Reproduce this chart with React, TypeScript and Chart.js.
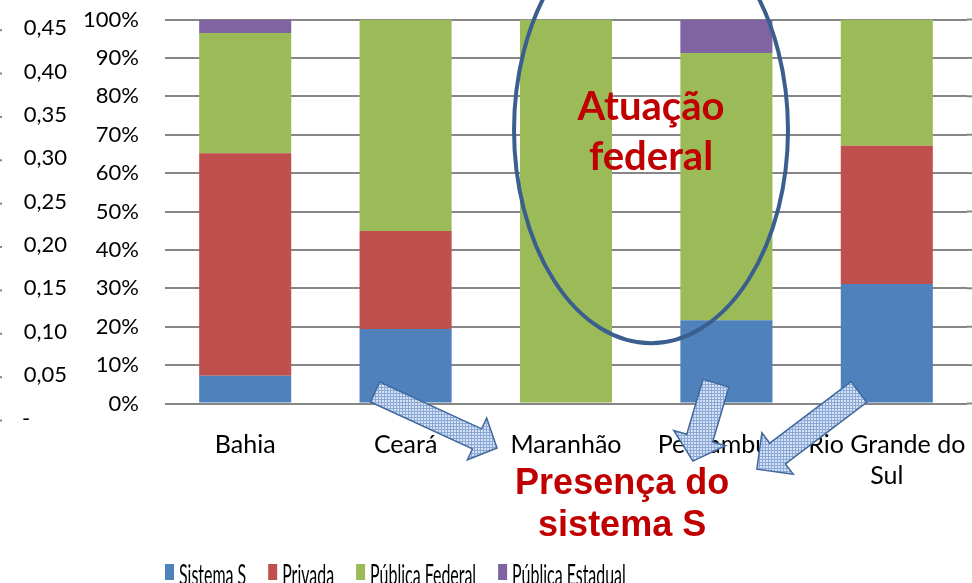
import React, { useEffect, useRef } from 'react';
import { Chart, registerables } from 'chart.js';

Chart.register(...registerables);

// ---- data ----
const categories: (string | string[])[] = ['Bahia', 'Ceará', 'Maranhão', 'Pernambuco', ['Rio Grande do', 'Sul']];
const sistemaS = [7.2, 19.4, 0, 21.7, 31.1];
const privada = [58.0, 25.5, 0, 0, 36.0];
const publicaFederal = [31.3, 55.1, 100, 69.6, 32.9];
const publicaEstadual = [3.5, 0, 0, 8.7, 0];
const seriesNames = ['Sistema S', 'Privada', 'Pública Federal', 'Pública Estadual'];
const seriesColors = ['#4F81BD', '#C0504D', '#9BBB59', '#8064A2'];

const secondaryTicks = [0, 0.05, 0.1, 0.15, 0.2, 0.25, 0.3, 0.35, 0.4, 0.45];
const secondaryLabels = ['-', '0,05', '0,10', '0,15', '0,20', '0,25', '0,30', '0,35', '0,40', '0,45'];

// annotations (in data units: category index, percent)
const ellipseNote = { cx: 2.53, cy: 71.2, rx: 0.854, ry: 55.5 };
const federalText = ['Atuação', 'federal'];
const federalTextPos = { x: 2.53, y: [73.8, 60.8] };
const sistemaText = ['Presença do', 'sistema S'];
const sistemaTextPos = { x: 2.35, y: [-23.6, -34.5] };
const arrows = [
  { tail: [0.81, 3.0], tip: [1.57, -11.6], w: 22, hw: 46, hl: 22 },
  { tail: [2.935, 5.3], tip: [2.791, -15.0], w: 27, hw: 54, hl: 24 },
  { tail: [3.826, 3.0], tip: [3.19, -17.1], w: 26, hw: 52, hl: 26 },
];

function makePattern(ctx: CanvasRenderingContext2D) {
  const c = document.createElement('canvas');
  c.width = 3;
  c.height = 3;
  const p = c.getContext('2d')!;
  p.fillStyle = '#d6e2f2';
  p.fillRect(0, 0, 3, 3);
  p.fillStyle = '#8aa9d8';
  p.fillRect(0, 0, 3, 1);
  p.fillRect(0, 0, 1, 3);
  return ctx.createPattern(c, 'repeat');
}

const gridExtendPlugin = {
  id: 'gridExtend',
  beforeDatasetsDraw(chart: any) {
    const ctx: CanvasRenderingContext2D = chart.ctx;
    const ys = chart.scales.y;
    const right = chart.chartArea.right;
    ctx.save();
    ctx.strokeStyle = '#868686';
    ctx.lineWidth = 2;
    ys.ticks.forEach((t: any) => {
      const py = ys.getPixelForValue(t.value);
      ctx.beginPath();
      ctx.moveTo(right, py);
      ctx.lineTo(chart.width, py);
      ctx.stroke();
    });
    ctx.restore();
  },
};

const annotationPlugin = {
  id: 'annotations',
  afterDraw(chart: any) {
    const ctx: CanvasRenderingContext2D = chart.ctx;
    const xs = chart.scales.x;
    const ys = chart.scales.y;
    const y2 = chart.scales.y2;
    const P = (xv: number, yv: number) => [xs.getPixelForValue(xv), ys.getPixelForValue(yv)];

    // secondary (cut) axis on the far left
    ctx.save();
    ctx.font = '22px Lato';
    ctx.textBaseline = 'middle';
    secondaryTicks.forEach((v, i) => {
      const py = y2.getPixelForValue(v);
      const label = secondaryLabels[i];
      ctx.fillStyle = '#000';
      if (label === '-') {
        ctx.textAlign = 'left';
        ctx.fillText(label, 22, py);
      } else {
        ctx.textAlign = 'right';
        ctx.fillText(label, 67, py);
      }
      ctx.fillStyle = '#868686';
      ctx.fillRect(0, py + 1, 2, 2);
    });
    ctx.restore();

    // ellipse
    const [ecx, ecy] = P(ellipseNote.cx, ellipseNote.cy);
    const erx = Math.abs(xs.getPixelForValue(ellipseNote.cx + ellipseNote.rx) - ecx);
    const ery = Math.abs(ys.getPixelForValue(ellipseNote.cy - ellipseNote.ry) - ecy);
    ctx.save();
    ctx.beginPath();
    ctx.ellipse(ecx, ecy, erx, ery, 0, 0, Math.PI * 2);
    ctx.strokeStyle = '#3A5F8E';
    ctx.lineWidth = 4;
    ctx.stroke();
    ctx.restore();

    // arrows
    const pat = makePattern(ctx);
    arrows.forEach((a) => {
      const [tx, ty] = P(a.tail[0], a.tail[1]);
      const [px, py] = P(a.tip[0], a.tip[1]);
      const len = Math.hypot(px - tx, py - ty);
      const dx = (px - tx) / len;
      const dy = (py - ty) / len;
      const nx = -dy;
      const ny = dx;
      const bx = px - dx * a.hl;
      const by = py - dy * a.hl;
      const pts = [
        [tx + (nx * a.w) / 2, ty + (ny * a.w) / 2],
        [bx + (nx * a.w) / 2, by + (ny * a.w) / 2],
        [bx + (nx * a.hw) / 2, by + (ny * a.hw) / 2],
        [px, py],
        [bx - (nx * a.hw) / 2, by - (ny * a.hw) / 2],
        [bx - (nx * a.w) / 2, by - (ny * a.w) / 2],
        [tx - (nx * a.w) / 2, ty - (ny * a.w) / 2],
      ];
      ctx.save();
      ctx.beginPath();
      pts.forEach((p, i) => (i === 0 ? ctx.moveTo(p[0], p[1]) : ctx.lineTo(p[0], p[1])));
      ctx.closePath();
      ctx.fillStyle = pat || '#c6d9f1';
      ctx.fill();
      ctx.strokeStyle = '#41699C';
      ctx.lineWidth = 1.5;
      ctx.stroke();
      ctx.restore();
    });

    // texts
    ctx.save();
    ctx.fillStyle = '#C00000';
    ctx.textAlign = 'center';
    ctx.textBaseline = 'alphabetic';
    ctx.font = 'bold 40px Lato';
    federalText.forEach((t, i) => {
      const [x, y] = P(federalTextPos.x, federalTextPos.y[i]);
      ctx.fillText(t, x, y);
    });
    ctx.font = 'bold 36px "Liberation Sans"';
    sistemaText.forEach((t, i) => {
      const [x, y] = P(sistemaTextPos.x, sistemaTextPos.y[i]);
      ctx.fillText(t, x, y);
    });
    ctx.restore();

    // legend (condensed)
    ctx.save();
    const sx = 0.55;
    let lx = chart.chartArea.left;
    const boxTop = 564;
    ctx.font = '29px Lato';
    ctx.textBaseline = 'alphabetic';
    ctx.textAlign = 'left';
    seriesNames.forEach((name, i) => {
      ctx.fillStyle = seriesColors[i];
      ctx.fillRect(lx, boxTop, 9, 16);
      const tx = lx + 14;
      ctx.fillStyle = '#000';
      ctx.save();
      ctx.translate(tx, 585);
      ctx.scale(sx, 1);
      ctx.fillText(name, 0, 0);
      ctx.restore();
      const w = ctx.measureText(name).width * sx;
      lx = tx + w + 22;
    });
    ctx.restore();
  },
};

export default function App() {
  const ref = useRef<HTMLCanvasElement>(null);
  useEffect(() => {
    if (!ref.current) return;
    const data = [sistemaS, privada, publicaFederal, publicaEstadual];
    const chart = new Chart(ref.current, {
      type: 'bar',
      data: {
        labels: categories as any,
        datasets: seriesNames.map((name, i) => ({
          label: name,
          data: data[i],
          backgroundColor: seriesColors[i],
          borderWidth: 0,
          barPercentage: 0.574,
          categoryPercentage: 1,
        })),
      },
      options: {
        animation: false,
        responsive: false,
        layout: { padding: { left: 0, top: 19.5, right: 5, bottom: 0 } },
        plugins: { legend: { display: false }, tooltip: { enabled: false } },
        scales: {
          x: {
            stacked: true,
            grid: { display: false },
            border: { display: false },
            ticks: {
              font: { family: 'Lato', size: 25, lineHeight: 1.25 },
              color: '#000',
              padding: 18,
              maxRotation: 0,
              autoSkip: false,
            },
            afterFit: (s: any) => {
              s.height = 179.5;
              s.paddingLeft = 0;
              s.paddingRight = 0;
            },
          },
          y: {
            stacked: true,
            min: 0,
            max: 100,
            ticks: {
              stepSize: 10,
              callback: (v: any) => v + '%',
              font: { family: 'Lato', size: 22 },
              color: '#000',
              padding: 26,
            },
            grid: { color: '#868686', lineWidth: 2, drawTicks: false },
            border: { display: false },
            afterFit: (s: any) => {
              s.width = 165;
              s.paddingTop = 0;
              s.paddingBottom = 0;
            },
          },
          y2: {
            display: false,
            position: 'left',
            min: 0.0173,
            max: 0.46,
            afterFit: (s: any) => {
              s.paddingTop = 0;
              s.paddingBottom = 0;
            },
          },
        },
      } as any,
      plugins: [gridExtendPlugin, annotationPlugin],
    });
    return () => chart.destroy();
  }, []);
  return (
    <div style={{ position: 'fixed', left: 0, top: 0, width: 972, height: 583, background: '#fff' }}>
      <canvas ref={ref} width={972} height={583} style={{ display: 'block' }} />
    </div>
  );
}
